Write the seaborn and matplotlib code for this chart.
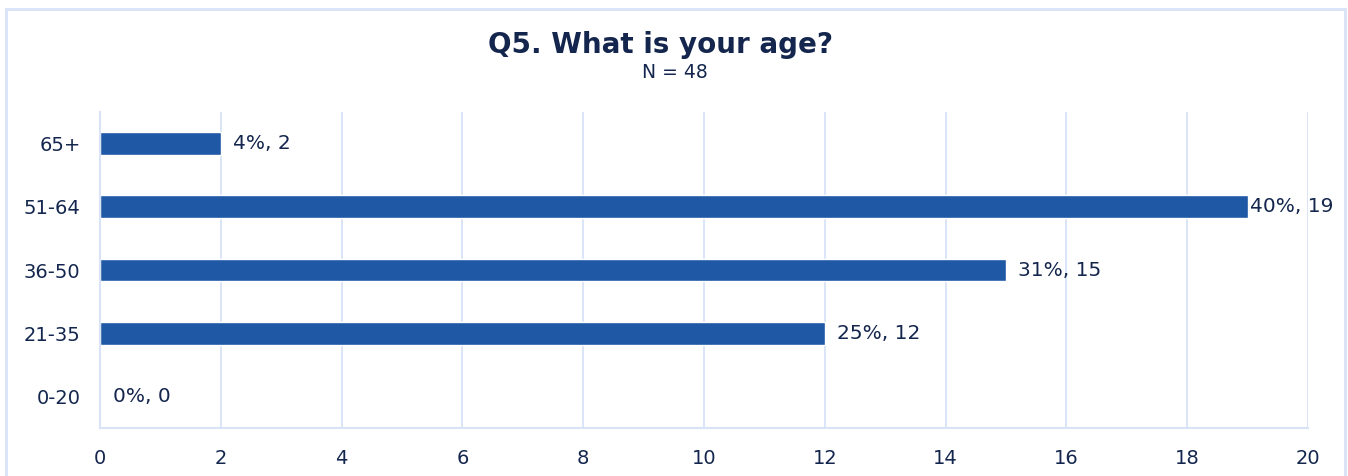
import matplotlib
matplotlib.use("Agg")
import matplotlib.pyplot as plt
import seaborn as sns
import pandas as pd
from matplotlib.patches import Rectangle

# survey data
age_groups = ["65+", "51-64", "36-50", "21-35", "0-20"]
counts = [2, 19, 15, 12, 0]
n_total = 48
x_ticks = [0, 2, 4, 6, 8, 10, 12, 14, 16, 18, 20]

bar_color = "#1F58A5"
text_color = "#14264D"
grid_color = "#D8E3F8"

sns.set_theme(style="white")
plt.rcParams["font.family"] = ["DejaVu Sans"]

df = pd.DataFrame({"age": age_groups, "count": counts})

fig = plt.figure(figsize=(13.48, 4.76), dpi=100)
ax = fig.add_axes([0.0742, 0.1008, 0.8961, 0.6639])

sns.barplot(data=df, x="count", y="age", order=age_groups, orient="h",
            color=bar_color, saturation=1, width=0.36, ax=ax)

ax.set_xlim(0, 20)
ax.set_ylim(len(age_groups) - 0.5, -0.5)
ax.set_xticks(x_ticks)
ax.set_xlabel("")
ax.set_ylabel("")
ax.grid(axis="x", color=grid_color, linewidth=1.3)
ax.set_axisbelow(True)
for side in ["top", "right"]:
    ax.spines[side].set_visible(False)
for side in ["left", "bottom"]:
    ax.spines[side].set_color(grid_color)
    ax.spines[side].set_linewidth(1.5)
ax.tick_params(axis="both", length=0, labelsize=14, colors=text_color)
ax.tick_params(axis="x", pad=15)
ax.tick_params(axis="y", pad=14)

# value labels
for i, c in enumerate(counts):
    pct = round(100 * c / n_total)
    off = 2 if c == max(counts) else 9
    ax.annotate(f"{pct}%, {c}", xy=(c, i), xytext=(off, 0),
                textcoords="offset points", va="center", ha="left",
                fontsize=14.5, color=text_color)

fig.text(0.49, 0.905, "Q5. What is your age?", ha="center", va="center",
         fontsize=20, fontweight="bold", color=text_color)
fig.text(0.501, 0.848, f"N = {n_total}", ha="center", va="center",
         fontsize=13.5, color=text_color)

# outer frame
fig.patches.append(Rectangle((0.0045, -0.05), 0.993, 1.031, transform=fig.transFigure,
                             fill=False, edgecolor=grid_color, linewidth=2))

fig.savefig("out.png", dpi=100)
